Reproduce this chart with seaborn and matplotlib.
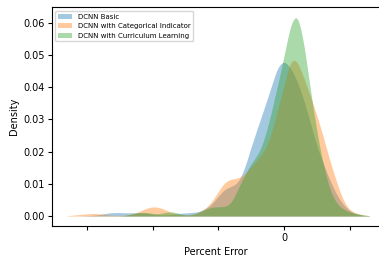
import numpy as np
import matplotlib
matplotlib.use("Agg")
import matplotlib.pyplot as plt
import seaborn as sns

# percent error grid and densities
grid = [-66, -64, -62, -60, -58, -56, -54, -52, -50, -48, -46, -44, -42, -40,
        -38, -36, -34, -32, -30, -28, -26, -24, -22, -20, -18, -16, -14, -12,
        -10, -8, -6, -4, -2, 0, 2, 4, 6, 8, 10, 12, 14, 16, 18, 20, 22, 24, 26]

basic = [0, 0, 0, 0.0001, 0.0002, 0.0005, 0.0009, 0.0011, 0.0011, 0.0010, 0.0010,
         0.0011, 0.0009, 0.0006, 0.0004, 0.0004, 0.0005, 0.0008, 0.0010, 0.0011,
         0.0013, 0.0022, 0.0035, 0.0062, 0.0085, 0.0092, 0.0100, 0.0145, 0.0215,
         0.0275, 0.0335, 0.0395, 0.0465, 0.0485, 0.0460, 0.0420, 0.0360, 0.0290,
         0.0215, 0.0160, 0.0110, 0.0065, 0.0035, 0.0015, 0.0006, 0.0002, 0]

categorical = [0.0001, 0.0003, 0.0005, 0.0007, 0.0008, 0.0007, 0.0004, 0.0002,
               0.0002, 0.0003, 0.0006, 0.0014, 0.0024, 0.0029, 0.0027, 0.0019,
               0.0009, 0.0004, 0.0003, 0.0004, 0.0010, 0.0022, 0.0042, 0.0075,
               0.0105, 0.0113, 0.0114, 0.0125, 0.0150, 0.0172, 0.0197, 0.0240,
               0.0322, 0.0393, 0.0482, 0.0475, 0.0420, 0.0365, 0.0305, 0.0240,
               0.0165, 0.0103, 0.0045, 0.0017, 0.0008, 0.0003, 0.0001]

curriculum = [0, 0, 0, 0, 0, 0, 0, 0, 0, 0.0002, 0.0008, 0.0012, 0.0013, 0.0008,
              0.0007, 0.0013, 0.0015, 0.0009, 0.0003, 0.0004, 0.0011, 0.0022,
              0.0030, 0.0031, 0.0030, 0.0040, 0.0090, 0.0135, 0.0175, 0.0200,
              0.0250, 0.0335, 0.0430, 0.0525, 0.0640, 0.0680, 0.0580, 0.0416,
              0.0275, 0.0165, 0.0080, 0.0040, 0.0022, 0.0013, 0.0008, 0.0004, 0.0001]

labels = ["DCNN Basic", "DCNN with Categorical Indicator", "DCNN with Curriculum Learning"]
colors = ["#1f77b4", "#ff7f0e", "#2ca02c"]

plt.rcParams["font.family"] = "DejaVu Sans"
plt.rcParams["font.size"] = 7

fig = plt.figure(figsize=(3.79, 2.56), dpi=100)
ax = fig.add_axes([0.137, 0.117, 0.863, 0.854])

x = np.array(grid, dtype=float)
for dens, lab, col in zip([basic, categorical, curriculum], labels, colors):
    w = np.array(dens)
    sd = np.sqrt(np.cov(x, aweights=w))
    sns.kdeplot(x=x, weights=w, bw_method=1.3 / sd, cut=0, fill=True,
                alpha=0.4, linewidth=0, color=col, label=lab, ax=ax)

ax.set_xlim(-70.6, 28.9)
ax.set_ylim(-0.0031, 0.0647)
ax.set_xticks([-60, -40, -20, 0, 20])
ax.set_xticklabels(["", "", "", "0", ""])
ax.set_yticks([0, 0.01, 0.02, 0.03, 0.04, 0.05, 0.06])
ax.set_yticklabels(["%.2f" % v for v in ax.get_yticks()])
ax.tick_params(axis="x", length=3, pad=2)
ax.tick_params(axis="y", length=3, pad=2)
ax.set_xlabel("Percent Error", labelpad=3)
ax.set_ylabel("Density", labelpad=3)
ax.spines["right"].set_visible(False)
ax.legend(loc="upper left", fontsize=5)

fig.savefig("out.png", dpi=100)
